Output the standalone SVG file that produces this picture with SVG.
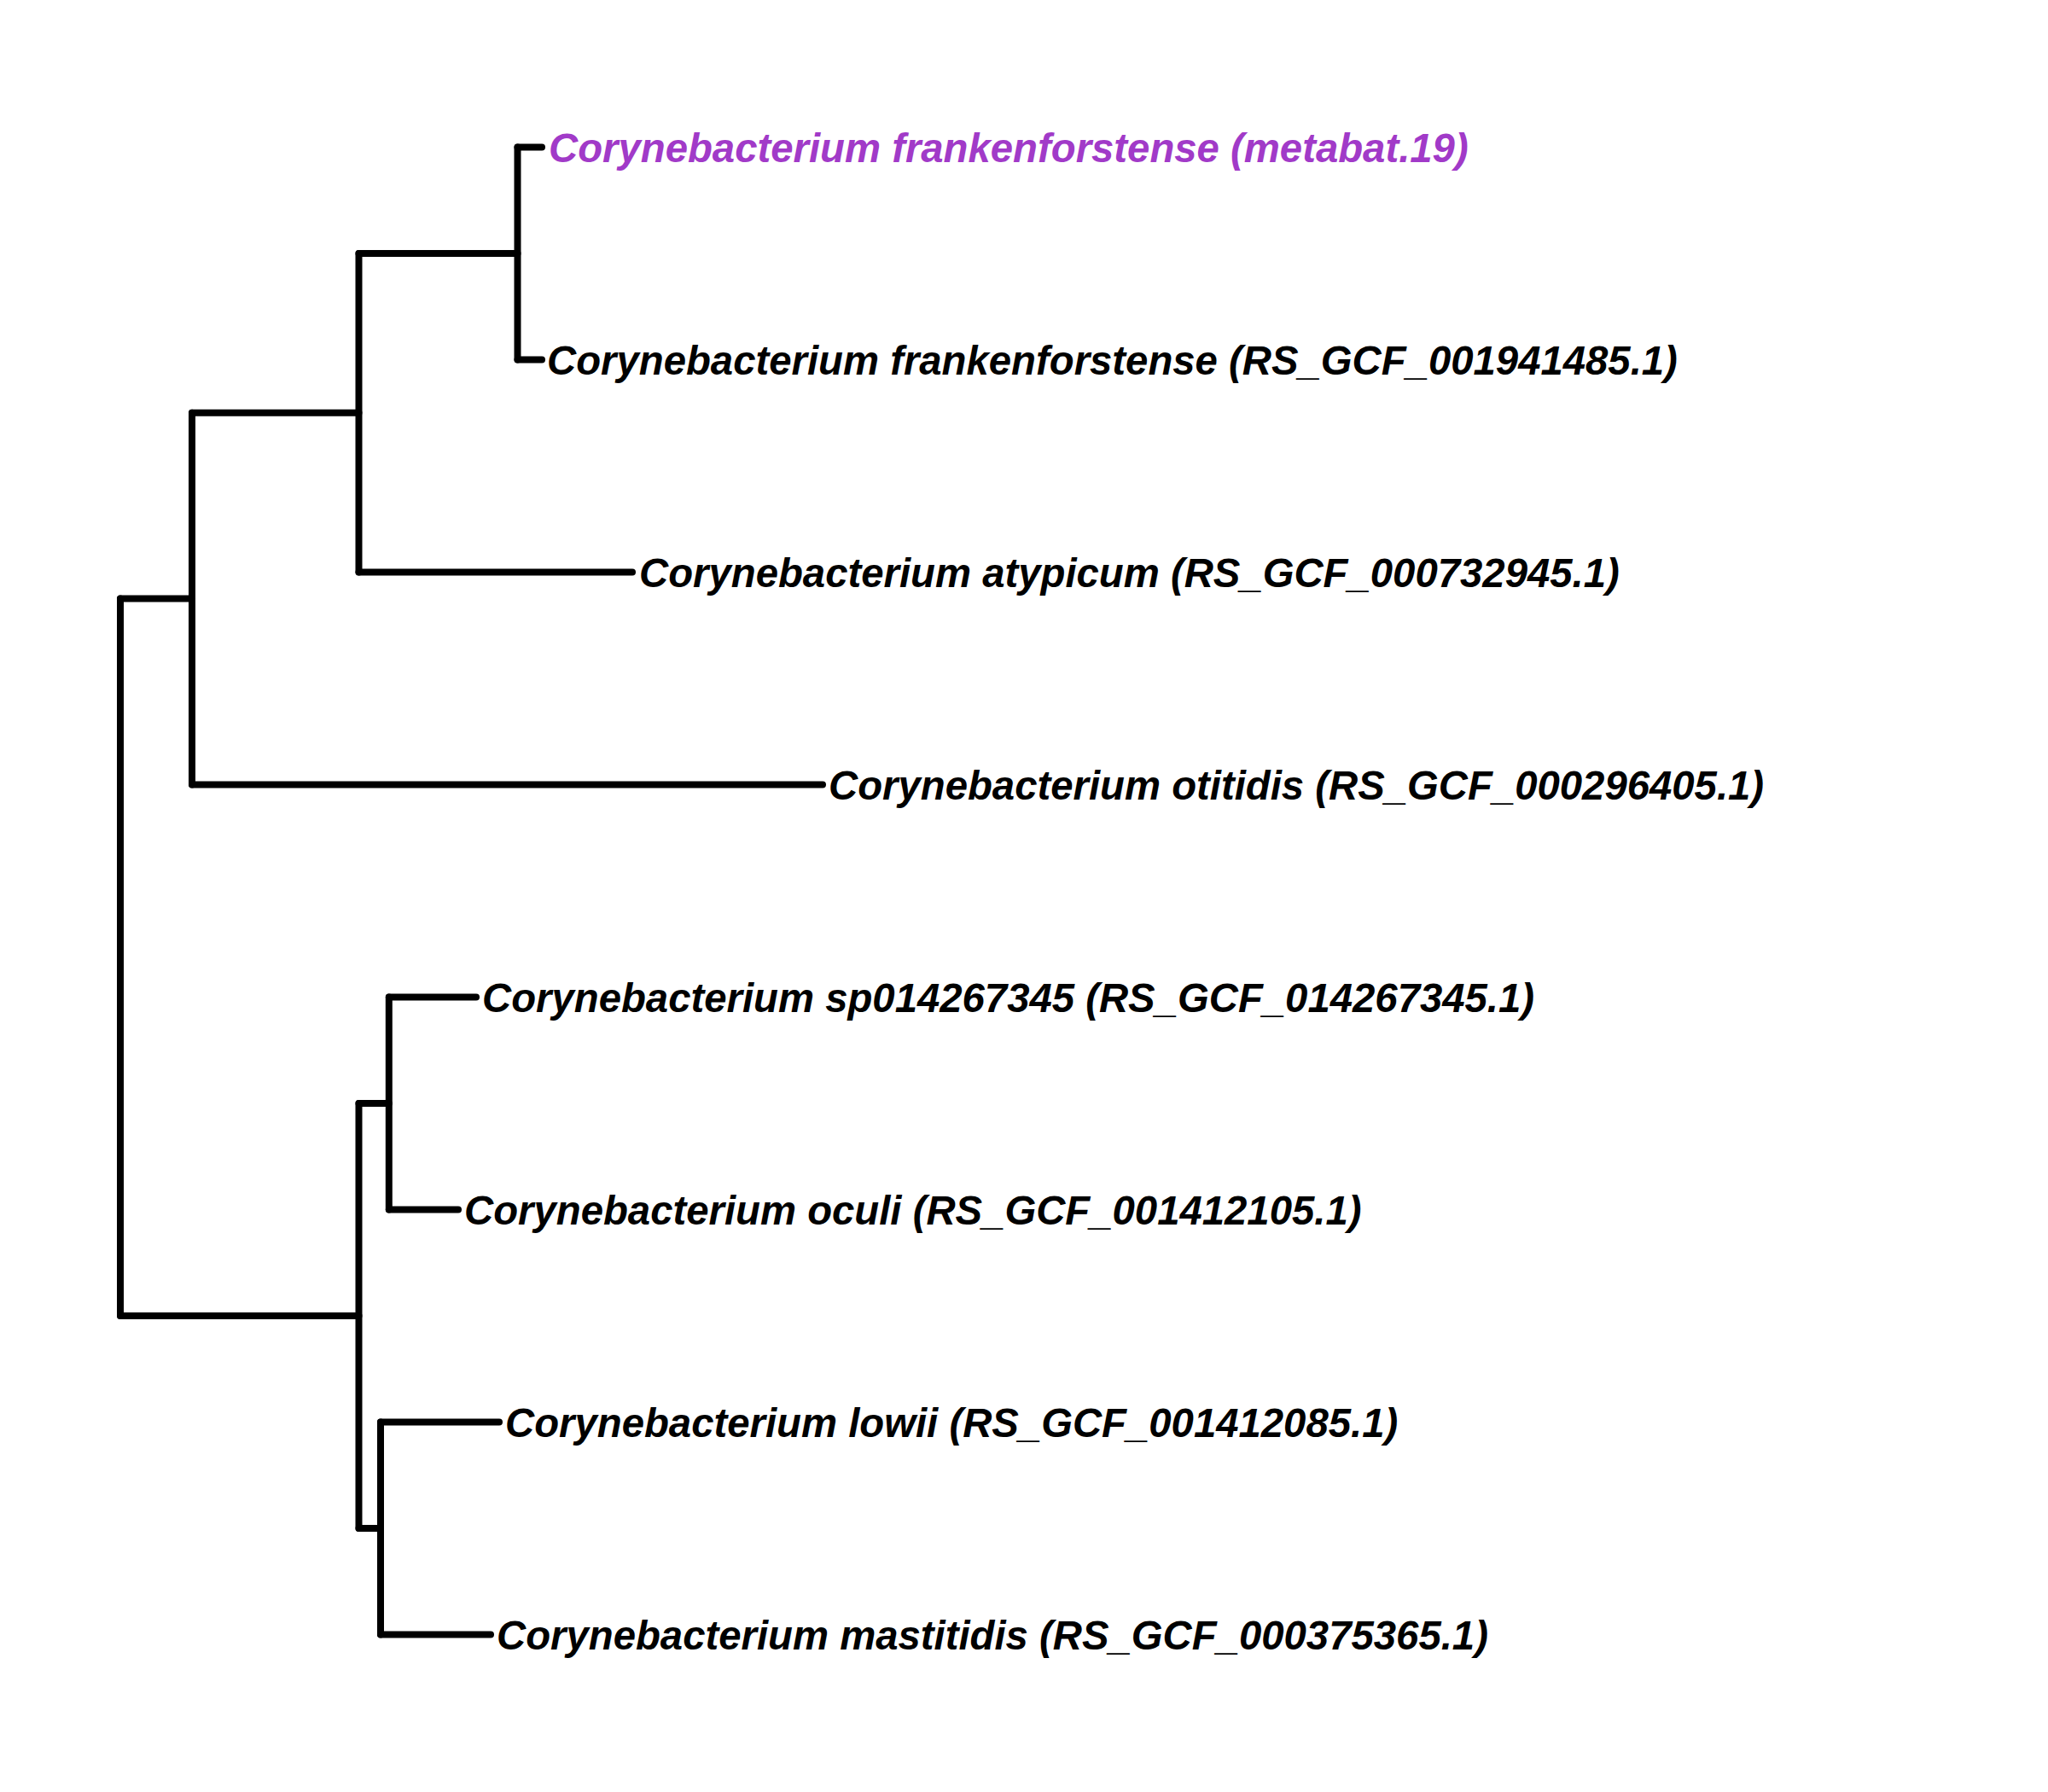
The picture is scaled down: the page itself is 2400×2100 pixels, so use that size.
<svg xmlns="http://www.w3.org/2000/svg" width="2400" height="2100" viewBox="0 0 2400 2100">
<style>
.br{stroke:#000;stroke-width:8;stroke-linecap:round;fill:none}
.lb{font-family:"Liberation Sans",Arial,Helvetica,sans-serif;font-size:47.3px;font-weight:bold;font-style:italic;fill:#000}
.hl{fill:#A13AC8}
</style>
<rect width="2400" height="2100" fill="#fff"/>
<g id="connectors">
<path class="br" d="M141,701.6V1542"/>
<path class="br" d="M141,701.6H225"/>
<path class="br" d="M141,1542H420.5"/>
<path class="br" d="M225,483.8V919.5"/>
<path class="br" d="M225,483.8H420.5"/>
<path class="br" d="M225,919.5H964"/>
<path class="br" d="M420.5,297V670.5"/>
<path class="br" d="M420.5,297H606.5"/>
<path class="br" d="M420.5,670.5H741"/>
<path class="br" d="M606.5,172.5V421.5"/>
<path class="br" d="M606.5,172.5H635"/>
<path class="br" d="M606.5,421.5H635"/>
<path class="br" d="M420.5,1293V1791"/>
<path class="br" d="M420.5,1293H455.8"/>
<path class="br" d="M420.5,1791H446"/>
<path class="br" d="M455.8,1168.5V1417.5"/>
<path class="br" d="M455.8,1168.5H558"/>
<path class="br" d="M455.8,1417.5H537"/>
<path class="br" d="M446,1666.5V1915.5"/>
<path class="br" d="M446,1666.5H585"/>
<path class="br" d="M446,1915.5H575"/>
</g>
<g id="tip-metabat19"><text class="lb hl" x="643" y="189.5">Corynebacterium frankenforstense (metabat.19)</text></g>
<g id="tip-frankenforstense"><text class="lb" x="641" y="438.5">Corynebacterium frankenforstense (RS_GCF_001941485.1)</text></g>
<g id="tip-atypicum"><text class="lb" x="749" y="687.5">Corynebacterium atypicum (RS_GCF_000732945.1)</text></g>
<g id="tip-otitidis"><text class="lb" x="971" y="936.5">Corynebacterium otitidis (RS_GCF_000296405.1)</text></g>
<g id="tip-sp014267345"><text class="lb" x="565" y="1185.5">Corynebacterium sp014267345 (RS_GCF_014267345.1)</text></g>
<g id="tip-oculi"><text class="lb" x="544" y="1434.5">Corynebacterium oculi (RS_GCF_001412105.1)</text></g>
<g id="tip-lowii"><text class="lb" x="592" y="1683.5">Corynebacterium lowii (RS_GCF_001412085.1)</text></g>
<g id="tip-mastitidis"><text class="lb" x="582" y="1932.5">Corynebacterium mastitidis (RS_GCF_000375365.1)</text></g>
</svg>
